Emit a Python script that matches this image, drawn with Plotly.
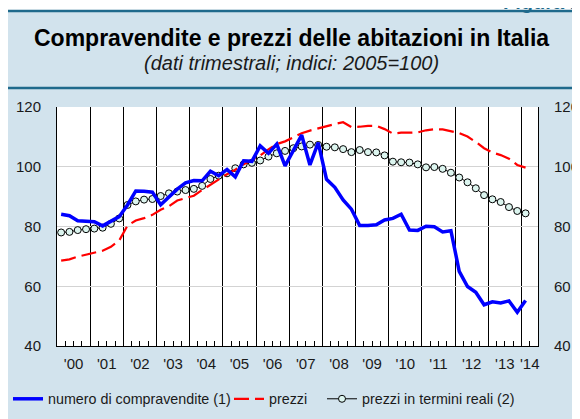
import plotly.graph_objects as go

# ---------------- data (quarterly, 2000Q1 - 2014Q1) ----------------
quarters = [f"{y}Q{q}" for y in range(2000, 2015) for q in range(1, 5)][:57]

compravendite = [
    84.1, 83.6, 81.9, 81.8,   # 2000
    81.6, 80.2, 81.6, 83.3,   # 2001
    87.2, 91.9, 91.8, 91.5,   # 2002
    87.3, 89.9, 92.5, 94.6,   # 2003
    95.4, 95.3, 98.5, 97.0,   # 2004
    99.1, 96.6, 102.0, 101.8, # 2005
    107.0, 104.5, 107.6, 100.3,  # 2006
    105.2, 110.6, 100.6, 108.1,  # 2007
    95.8, 93.1, 88.9, 85.8,   # 2008
    80.3, 80.3, 80.6, 82.2,   # 2009
    82.7, 84.1, 78.8, 78.7,   # 2010
    80.1, 79.9, 78.2, 78.6,   # 2011
    65.0, 59.9, 58.0, 53.8,   # 2012
    54.8, 54.4, 55.1, 51.3,   # 2013
    55.2,                     # 2014
]

prezzi = [
    68.6, 69.0, 69.9, 70.6,
    71.2, 71.9, 73.2, 75.3,
    80.3, 82.0, 82.8, 83.9,
    85.6, 86.8, 88.7, 89.6,
    90.3, 92.2, 94.0, 96.0,
    97.5, 99.0, 100.8, 102.2,
    103.8, 105.8, 107.6, 108.5,
    109.8, 111.2, 112.1, 112.9,
    113.5, 114.3, 114.9, 113.3,
    113.4, 113.7, 113.7, 112.6,
    111.1, 111.4, 111.4, 111.5,
    112.2, 112.6, 112.5, 111.8,
    111.3, 110.1, 108.3, 106.2,
    104.8, 103.9, 102.7, 100.6,
    99.7,
]

prezzi_reali = [
    78.0, 78.2, 78.8, 79.1,
    79.3, 79.6, 80.9, 82.7,
    87.2, 88.4, 89.0, 89.2,
    90.2, 91.1, 91.7, 92.2,
    92.6, 93.6, 95.9, 97.0,
    97.8, 99.5, 100.8, 101.3,
    102.1, 103.4, 104.5, 105.3,
    106.2, 106.8, 107.4, 107.3,
    106.7, 106.5, 105.9, 104.9,
    105.6, 104.9, 104.8, 103.8,
    101.7, 101.5, 101.4, 100.8,
    99.8, 99.9, 99.3, 98.0,
    96.4, 94.8, 92.8, 90.5,
    89.1, 88.2, 86.5, 85.2,
    84.4,
]

year_labels = ["'00", "'01", "'02", "'03", "'04", "'05", "'06", "'07",
               "'08", "'09", "'10", "'11", "'12", "'13", "'14"]
y_ticks = [40, 60, 80, 100, 120]

# ---------------- positions derived from categories ----------------
x = [int(q[:4]) + (int(q[-1]) - 0.5) / 4 for q in quarters]
first_year = 2000
x_end = 2014.5

# label positions: middle of each year (last year only half shown)
label_pos = [first_year + i + 0.5 for i in range(len(year_labels) - 1)]
label_pos.append((first_year + len(year_labels) - 1 + x_end) / 2)

# quarter ticks (non-year boundaries) carry the labels
tickvals, ticktext = [], []
k = 1
while first_year + k * 0.25 < x_end - 1e-9:
    v = first_year + k * 0.25
    if abs(v - round(v)) > 1e-9:
        tickvals.append(v)
        lab = ""
        for p, t in zip(label_pos, year_labels):
            if abs(p - v) < 1e-9:
                lab = t
        ticktext.append(lab)
    k += 1

FONT = "Liberation Sans, Arial, Helvetica, sans-serif"
PANEL = "#d2e3ed"
RULE = "#1f6a8c"
TXT = "#1a1a1a"

# figure sits in the page with the browser's 8px body margin
W, H = 572, 411
L, R, T, B = 49, 42, 99, 73
pw, ph = W - L - R, H - T - B


def px_x(p):
    return (p - L) / pw


def px_y(p):
    return (H - B - p) / ph


fig = go.Figure()

fig.add_trace(go.Scatter(
    x=x, y=prezzi_reali, name="prezzi in termini reali (2)", mode="lines+markers",
    line=dict(color="black", width=1),
    marker=dict(symbol="circle", size=7, color="#dcf5ef", line=dict(color="black", width=1)),
    legend="legend3",
))
fig.add_trace(go.Scatter(
    x=x, y=prezzi, name="prezzi", mode="lines",
    line=dict(color="#ff0000", width=2.2, dash="15px,6px"),
    legend="legend2",
))
fig.add_trace(go.Scatter(
    x=x, y=compravendite, name="numero di compravendite (1)", mode="lines",
    line=dict(color="#0000ff", width=3.5),
    yaxis="y2", legend="legend",
))


def leg(xpix):
    return dict(orientation="h", xref="container", yref="container",
                x=xpix / W, xanchor="left", y=1 - 391 / H, yanchor="middle",
                font=dict(size=14.3, color=TXT), bgcolor="rgba(0,0,0,0)")


fig.update_layout(
    width=W, height=H, autosize=False,
    margin=dict(l=L, r=R, t=T, b=B, pad=0, autoexpand=False),
    paper_bgcolor=PANEL, plot_bgcolor="white",
    font=dict(family=FONT, size=15, color=TXT),
    showlegend=True,
    legend=leg(0), legend2=leg(221), legend3=leg(314),
    xaxis=dict(
        range=[first_year, x_end], tickmode="array", tickvals=tickvals, ticktext=ticktext,
        ticks="inside", ticklen=5, tickcolor="black", tickwidth=1,
        showgrid=False, zeroline=False,
        showline=True, linecolor="black", linewidth=1,
        tickfont=dict(size=15, color=TXT), ticklabelstandoff=4,
        minor=dict(tick0=first_year, dtick=1, showgrid=True, gridcolor="black", gridwidth=1,
                   ticks="inside", ticklen=5, tickcolor="black"),
    ),
    yaxis=dict(
        range=[40, 120], tickmode="array", tickvals=y_ticks,
        showgrid=True, gridcolor="#d3d3d3", gridwidth=1, zeroline=False,
        showline=True, linecolor="black", linewidth=1, ticks="",
        tickfont=dict(size=15, color=TXT), ticklabelstandoff=12,
    ),
    yaxis2=dict(
        range=[40, 120], tickmode="array", tickvals=y_ticks, overlaying="y", side="right",
        showgrid=False, zeroline=False, showline=True, linecolor="black", linewidth=1,
        ticks="", tickfont=dict(size=15, color=TXT), ticklabelstandoff=12,
    ),
)

# header frame: thin white strip at top, rules of the header
shapes = [
    dict(type="rect", xref="paper", yref="paper", x0=px_x(-20), x1=px_x(W + 20),
         y0=px_y(2), y1=px_y(-20), fillcolor="white", line=dict(width=0), layer="below"),
    dict(type="line", xref="paper", yref="paper", x0=px_x(-5), x1=px_x(W + 5),
         y0=px_y(3), y1=px_y(3), line=dict(color=RULE, width=2.5), layer="below"),
    dict(type="line", xref="paper", yref="paper", x0=px_x(-5), x1=px_x(W + 5),
         y0=px_y(80), y1=px_y(80), line=dict(color=RULE, width=2.5), layer="below"),
]
fig.update_layout(shapes=shapes)

fig.add_annotation(text="<b>Compravendite e prezzi delle abitazioni in Italia</b>",
                   xref="paper", yref="paper", x=px_x(283), y=px_y(30),
                   xanchor="center", yanchor="middle", showarrow=False,
                   font=dict(size=23, color="black", family=FONT))
fig.add_annotation(text="<i>(dati trimestrali; indici: 2005=100)</i>",
                   xref="paper", yref="paper", x=px_x(283), y=px_y(55),
                   xanchor="center", yanchor="middle", showarrow=False,
                   font=dict(size=20, color=TXT, family=FONT))
fig.add_annotation(text="<b>Figura 1</b>",
                   xref="paper", yref="paper", x=px_x(575), y=px_y(7),
                   xanchor="right", yanchor="bottom", showarrow=False,
                   font=dict(size=20, color=RULE, family=FONT))

fig.write_html("out.html")
